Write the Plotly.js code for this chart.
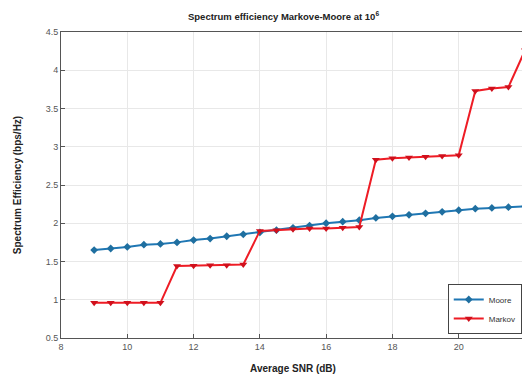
<!DOCTYPE html>
<html><head><meta charset="utf-8">
<script src="https://cdn.plot.ly/plotly-3.0.1.min.js"></script>
<style>html,body{margin:0;padding:0;overflow:hidden;background:#fff}#c{width:530px;height:376px}</style>
</head><body><div id="c"></div>
<script>
const snr = [9,9.5,10,10.5,11,11.5,12,12.5,13,13.5,14,14.5,15,15.5,16,16.5,17,17.5,18,18.5,19,19.5,20,20.5,21,21.5,22];
const moore = [1.65,1.67,1.69,1.72,1.73,1.75,1.78,1.80,1.83,1.855,1.88,1.91,1.94,1.97,2.00,2.02,2.04,2.07,2.09,2.11,2.13,2.15,2.17,2.19,2.20,2.21,2.22];
const markov = [0.96,0.96,0.96,0.96,0.96,1.44,1.445,1.45,1.45,1.46,1.90,1.91,1.92,1.93,1.93,1.94,1.95,2.83,2.85,2.86,2.87,2.88,2.89,3.73,3.76,3.78,4.26];
const xTicks = [8,10,12,14,16,18,20,22];
const yTicks = [0.5,1,1.5,2,2.5,3,3.5,4,4.5];
const F = 'Liberation Sans, Arial, sans-serif';
const traces = [
  {x: snr, y: moore, name: 'Moore', mode: 'lines+markers', line: {color: '#1f77b4', width: 2},
   marker: {symbol: 'diamond', size: 6, color: '#1f6fa0'}},
  {x: snr, y: markov, name: 'Markov', mode: 'lines+markers', line: {color: '#ee1c25', width: 2},
   marker: {symbol: 'triangle-down', size: 7, color: '#d0101c'}}
];
const ax = {showline: true, linecolor: '#555', linewidth: 1, mirror: true, ticks: 'inside', ticklen: 4,
  tickcolor: '#555', showgrid: true, gridcolor: '#e8e8e8', zeroline: false, automargin: false,
  tickfont: {family: F, size: 9, color: '#555'}};
const layout = {
  width: 530, height: 376,
  margin: {l: 61, r: 5, t: 32, b: 38},
  paper_bgcolor: '#fff', plot_bgcolor: '#fff',
  title: {text: '<b>Spectrum efficiency Markove-Moore at 10<sup>6</sup></b>', font: {family: F, size: 9.5, color: '#222'},
    x: 0.535, xanchor: 'center', y: 0.955, yanchor: 'middle'},
  xaxis: Object.assign({}, ax, {range: [8, 22], tickvals: xTicks, ticktext: xTicks.map(String),
    title: {text: '<b>Average SNR (dB)</b>', font: {family: F, size: 10, color: '#222'}, standoff: 14}}),
  yaxis: Object.assign({}, ax, {range: [0.5, 4.5], tickvals: yTicks, ticktext: yTicks.map(String),
    title: {text: '<b>Spectrum Efficiency (bps/Hz)</b>', font: {family: F, size: 10, color: '#222'}, standoff: 22}}),
  showlegend: true,
  legend: {x: 0.993, xanchor: 'right', y: 0.013, yanchor: 'bottom', bgcolor: '#fff',
    bordercolor: '#444', borderwidth: 1, font: {family: F, size: 8, color: '#333'},
    tracegroupgap: 0, itemwidth: 30}
};
Plotly.newPlot('c', traces, layout, {staticPlot: true, displayModeBar: false});
</script></body></html>
